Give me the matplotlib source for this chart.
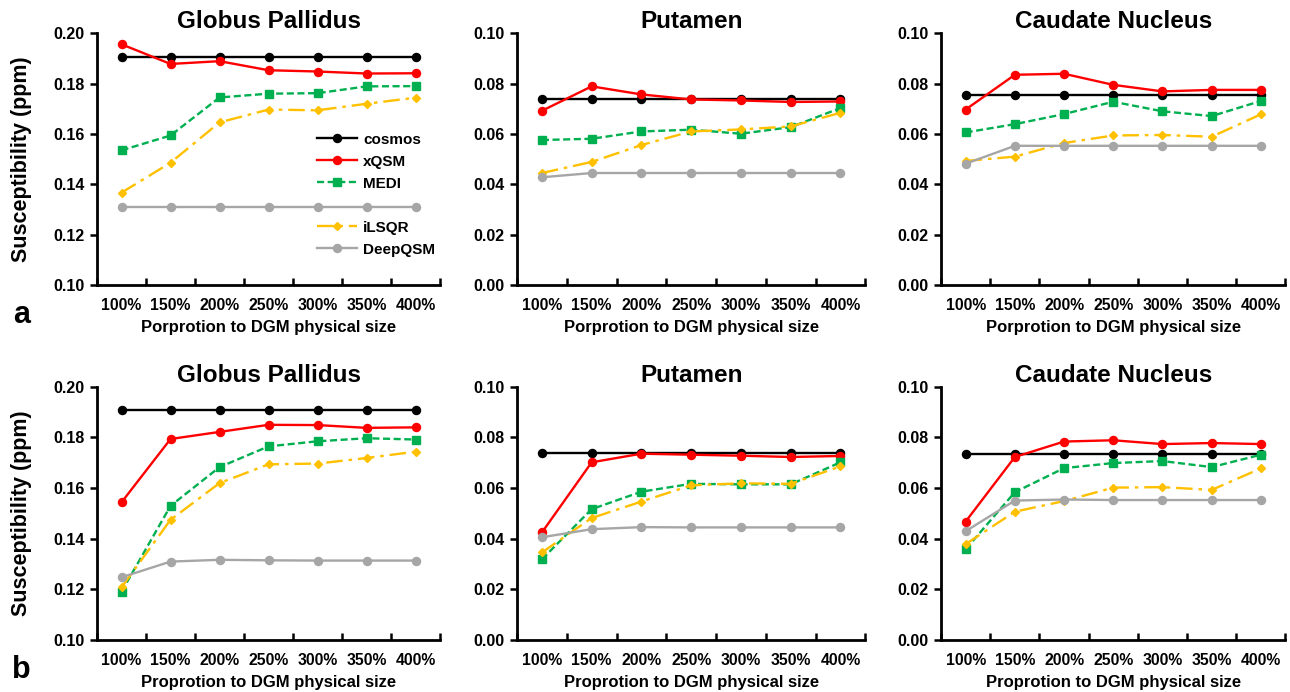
import matplotlib.pyplot as plt
from matplotlib.lines import Line2D
from matplotlib.ticker import FormatStrFormatter

plt.rcParams['font.family'] = ['Liberation Sans', 'DejaVu Sans']
plt.rcParams['font.weight'] = 'bold'

# categories
sizes = ["100%", "150%", "200%", "250%", "300%", "350%", "400%"]
methods = ["cosmos", "xQSM", "MEDI", "iLSQR", "DeepQSM"]
regions = ["Globus Pallidus", "Putamen", "Caudate Nucleus"]

# row a
gp_a_cosmos = [0.1905, 0.1905, 0.1905, 0.1905, 0.1905, 0.1905, 0.1905]
gp_a_xqsm = [0.1956, 0.1878, 0.1889, 0.1853, 0.1848, 0.1840, 0.1841]
gp_a_medi = [0.1535, 0.1594, 0.1745, 0.1760, 0.1762, 0.1789, 0.1790]
gp_a_ilsqr = [0.1367, 0.1486, 0.1646, 0.1697, 0.1694, 0.1720, 0.1744]
gp_a_deep = [0.1312, 0.1312, 0.1312, 0.1312, 0.1312, 0.1312, 0.1312]

pu_a_cosmos = [0.0738, 0.0738, 0.0738, 0.0738, 0.0738, 0.0738, 0.0738]
pu_a_xqsm = [0.0692, 0.0789, 0.0757, 0.0737, 0.0733, 0.0727, 0.0729]
pu_a_medi = [0.0576, 0.0581, 0.0610, 0.0617, 0.0601, 0.0627, 0.0703]
pu_a_ilsqr = [0.0445, 0.0489, 0.0556, 0.0610, 0.0618, 0.0630, 0.0684]
pu_a_deep = [0.0428, 0.0445, 0.0445, 0.0445, 0.0445, 0.0445, 0.0445]

cn_a_cosmos = [0.0754, 0.0754, 0.0754, 0.0754, 0.0754, 0.0754, 0.0754]
cn_a_xqsm = [0.0697, 0.0835, 0.0839, 0.0795, 0.0769, 0.0775, 0.0775]
cn_a_medi = [0.0606, 0.0639, 0.0679, 0.0728, 0.0690, 0.0671, 0.0731]
cn_a_ilsqr = [0.0493, 0.0510, 0.0564, 0.0594, 0.0596, 0.0589, 0.0678]
cn_a_deep = [0.0482, 0.0553, 0.0553, 0.0553, 0.0553, 0.0553, 0.0553]

# row b
gp_b_cosmos = [0.1907, 0.1907, 0.1907, 0.1907, 0.1907, 0.1907, 0.1907]
gp_b_xqsm = [0.1544, 0.1794, 0.1822, 0.1850, 0.1849, 0.1838, 0.1840]
gp_b_medi = [0.1191, 0.1530, 0.1683, 0.1765, 0.1785, 0.1797, 0.1792]
gp_b_ilsqr = [0.1208, 0.1475, 0.1620, 0.1694, 0.1697, 0.1719, 0.1744]
gp_b_deep = [0.1248, 0.1310, 0.1317, 0.1315, 0.1314, 0.1314, 0.1314]

pu_b_cosmos = [0.0739, 0.0739, 0.0739, 0.0739, 0.0739, 0.0739, 0.0739]
pu_b_xqsm = [0.0425, 0.0702, 0.0736, 0.0732, 0.0728, 0.0723, 0.0727]
pu_b_medi = [0.0319, 0.0517, 0.0586, 0.0617, 0.0615, 0.0615, 0.0702]
pu_b_ilsqr = [0.0346, 0.0482, 0.0547, 0.0611, 0.0619, 0.0617, 0.0686]
pu_b_deep = [0.0406, 0.0438, 0.0446, 0.0445, 0.0445, 0.0445, 0.0445]

cn_b_cosmos = [0.0735, 0.0735, 0.0735, 0.0735, 0.0735, 0.0735, 0.0735]
cn_b_xqsm = [0.0468, 0.0723, 0.0784, 0.0789, 0.0774, 0.0778, 0.0774]
cn_b_medi = [0.0359, 0.0584, 0.0679, 0.0699, 0.0707, 0.0683, 0.0732]
cn_b_ilsqr = [0.0379, 0.0507, 0.0549, 0.0602, 0.0604, 0.0593, 0.0678]
cn_b_deep = [0.0430, 0.0551, 0.0555, 0.0553, 0.0553, 0.0553, 0.0553]

panels_a = [
    [gp_a_cosmos, gp_a_xqsm, gp_a_medi, gp_a_ilsqr, gp_a_deep],
    [pu_a_cosmos, pu_a_xqsm, pu_a_medi, pu_a_ilsqr, pu_a_deep],
    [cn_a_cosmos, cn_a_xqsm, cn_a_medi, cn_a_ilsqr, cn_a_deep],
]
panels_b = [
    [gp_b_cosmos, gp_b_xqsm, gp_b_medi, gp_b_ilsqr, gp_b_deep],
    [pu_b_cosmos, pu_b_xqsm, pu_b_medi, pu_b_ilsqr, pu_b_deep],
    [cn_b_cosmos, cn_b_xqsm, cn_b_medi, cn_b_ilsqr, cn_b_deep],
]

# line styles per method
styles = {
    "cosmos": dict(color="black", ls="-", marker="o", ms=5.8),
    "xQSM": dict(color="#FF0000", ls="-", marker="o", ms=5.8),
    "MEDI": dict(color="#00B050", ls=(0, (3, 1.5)), marker="s", ms=5.8),
    "iLSQR": dict(color="#FFC000", ls=(0, (7, 2.5, 1.5, 2.5)), marker="D", ms=4),
    "DeepQSM": dict(color="#A6A6A6", ls="-", marker="o", ms=5.8),
}

fig = plt.figure(figsize=(12.9, 6.92), dpi=100)

lefts = [0.0752, 0.4008, 0.7295]
widths = [0.266, 0.270, 0.267]
rows = [(0.588, 0.364, panels_a, "Porprotion to DGM physical size", "a"),
        (0.075, 0.366, panels_b, "Proprotion to DGM physical size", "b")]
ylims = [(0.10, 0.20), (0.0, 0.10), (0.0, 0.10)]

x = list(range(len(sizes)))

for bottom, height, panels, xlab, letter in rows:
    for i in range(3):
        ax = fig.add_axes([lefts[i], bottom, widths[i], height])
        for m, vals in zip(methods, panels[i]):
            st = styles[m]
            ax.plot(x, vals, color=st["color"], linestyle=st["ls"], marker=st["marker"],
                    markersize=st["ms"], linewidth=1.7, label=m)
        ax.set_xlim(-0.5, 6.5)
        ax.set_ylim(*ylims[i])
        ax.set_yticks([ylims[i][0] + k * 0.02 for k in range(6)])
        ax.yaxis.set_major_formatter(FormatStrFormatter('%.2f'))
        ax.set_xticks(x)
        ax.set_xticklabels(sizes)
        ax.set_xticks([k - 0.5 for k in range(8)], minor=True)
        ax.tick_params(axis='x', which='major', length=0, pad=9, labelsize=11.3)
        ax.tick_params(axis='x', which='minor', direction='in', length=5, width=1.8)
        ax.tick_params(axis='y', direction='out', length=5, width=1.8, labelsize=11.5, pad=4)
        for s in ['top', 'right']:
            ax.spines[s].set_visible(False)
        for s in ['left', 'bottom']:
            ax.spines[s].set_linewidth(2)
        ax.set_title(regions[i], fontsize=17.5, fontweight='bold', pad=3)
        ax.set_xlabel(xlab, fontsize=12, fontweight='bold', labelpad=5)
        if i == 0:
            ax.set_ylabel("Susceptibility (ppm)", fontsize=15.5, fontweight='bold', labelpad=15)
            ax.text(-0.22, -0.12, letter, transform=ax.transAxes, fontsize=22,
                    fontweight='bold', ha='center', va='center')
            if letter == "a":
                handles, labels = ax.get_legend_handles_labels()
                blank = Line2D([], [], linestyle='none', marker='none')
                handles = handles[:3] + [blank] + handles[3:]
                labels = labels[:3] + [" "] + labels[3:]
                ax.legend(handles, labels, loc='upper left', bbox_to_anchor=(0.62, 0.635),
                          frameon=False, fontsize=11, handlelength=2.6, labelspacing=0.52,
                          handletextpad=0.4, borderpad=0)

fig.savefig("out.png", dpi=100)
